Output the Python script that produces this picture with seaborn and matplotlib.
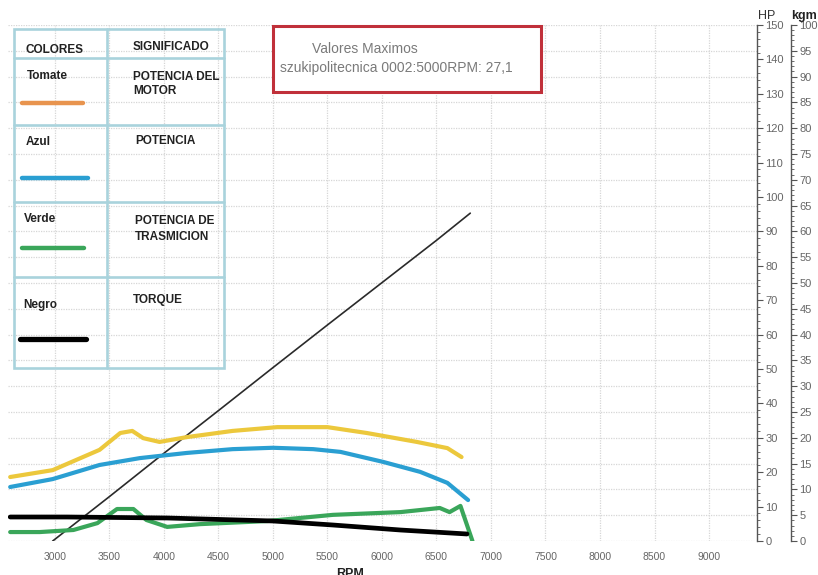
import matplotlib
matplotlib.use("Agg")
import matplotlib.pyplot as plt
from matplotlib.lines import Line2D
from matplotlib.patches import Rectangle
from matplotlib.ticker import MultipleLocator
import seaborn as sns

sns.set_style("white")
plt.rcParams["font.family"] = ["Liberation Sans", "DejaVu Sans"]

# ---------------- data ----------------
# Potencia del motor (HP)
rpm_motor = [2590, 2980, 3410, 3600, 3710, 3810, 3960, 4210, 4630, 5040, 5500, 5860, 6320, 6600, 6730]
hp_motor = [18.6, 20.6, 26.5, 31.4, 32.0, 29.9, 28.8, 30.2, 32.0, 33.1, 33.1, 31.4, 28.8, 27.0, 24.4]

# Potencia (HP)
rpm_potencia = [2590, 2980, 3410, 3780, 4210, 4630, 5000, 5370, 5620, 6010, 6350, 6600, 6790]
hp_potencia = [15.7, 18.0, 22.1, 24.1, 25.6, 26.7, 27.1, 26.7, 25.9, 23.0, 20.1, 16.9, 11.9]

# Potencia de trasmision (HP)
rpm_trasmision = [2590, 2860, 3170, 3390, 3570, 3720, 3840, 4030, 4330, 4950, 5550, 6170, 6530, 6620, 6720, 6830]
hp_trasmision = [2.6, 2.6, 3.2, 5.2, 9.3, 9.3, 6.1, 4.1, 4.9, 5.8, 7.6, 8.4, 9.6, 8.4, 10.2, 0.0]

# Torque (kgm)
rpm_torque = [2590, 3110, 4030, 5000, 5550, 6170, 6780]
kgm_torque = [4.65, 4.65, 4.46, 3.88, 3.10, 2.13, 1.36]

# Rampa de RPM (escala HP)
rpm_rampa = [2980, 3500, 4000, 4500, 5000, 5500, 6000, 6500, 6810]
hp_rampa = [0.0, 12.9, 25.5, 37.9, 50.4, 62.8, 75.1, 87.4, 95.3]

x_ticks = [3000, 3500, 4000, 4500, 5000, 5500, 6000, 6500, 7000, 7500, 8000, 8500, 9000]

# ---------------- figure ----------------
W, H = 818, 575
fig = plt.figure(figsize=(W / 100, H / 100), dpi=100)
fig.patch.set_facecolor("white")


def fx(x):
    return x / W


def fy(y):
    return 1 - y / H


left, right, top, bottom = 8, 757, 25, 541
ax = fig.add_axes([fx(left), fy(bottom), (right - left) / W, (bottom - top) / H])

# HP axis and torque layer (twins of the kgm/grid axis)
ax_hp = ax.twinx()
ax_tq = ax.twinx()

ax.set_xlim(2570, 9440)
ax.set_ylim(0, 100)
ax.set_xticks(x_ticks)
ax.xaxis.set_minor_locator(MultipleLocator(100))
ax.yaxis.set_major_locator(MultipleLocator(5))
ax.yaxis.set_minor_locator(MultipleLocator(1))
ax.grid(True, which="major", color="#d6d6d6", linestyle=(0, (1, 1)), linewidth=0.9)
ax.set_axisbelow(True)
for s in ("left", "top", "bottom"):
    ax.spines[s].set_visible(False)
ax.spines["right"].set_visible(True)
ax.spines["right"].set_position(("outward", 34 * 0.72))
ax.spines["right"].set_color("#555555")
ax.spines["right"].set_linewidth(1.0)
ax.yaxis.tick_right()
ax.yaxis.set_label_position("right")
ax.tick_params(axis="y", which="major", left=False, right=True, labelleft=False,
               labelright=True, length=4, width=0.8, color="#555555",
               labelsize=8, labelcolor="#666666", pad=2)
ax.tick_params(axis="y", which="minor", left=False, right=True, length=2, width=0.6,
               color="#555555")
ax.tick_params(axis="x", which="major", length=3, width=0.6, color="#bbbbbb",
               labelsize=7.5, labelcolor="#666666", pad=8, direction="in")
ax.tick_params(axis="x", which="minor", length=2, width=0.5, color="#cccccc", direction="in")

ax_hp.set_ylim(0, 150)
ax_hp.yaxis.set_major_locator(MultipleLocator(10))
ax_hp.yaxis.set_minor_locator(MultipleLocator(2))
for s in ("left", "top", "bottom"):
    ax_hp.spines[s].set_visible(False)
ax_hp.spines["right"].set_color("#555555")
ax_hp.spines["right"].set_linewidth(1.0)
ax_hp.tick_params(axis="y", which="major", length=4, width=0.8, color="#555555",
                  labelsize=8, labelcolor="#666666", pad=2)
ax_hp.tick_params(axis="y", which="minor", length=2, width=0.6, color="#555555")

sns.lineplot(x=rpm_rampa, y=hp_rampa, ax=ax_hp, color="#2a2a2a", linewidth=1.2)
sns.lineplot(x=rpm_motor, y=hp_motor, ax=ax_hp, color="#ecc83c", linewidth=3.0)
sns.lineplot(x=rpm_potencia, y=hp_potencia, ax=ax_hp, color="#2a9fd2", linewidth=3.0)
sns.lineplot(x=rpm_trasmision, y=hp_trasmision, ax=ax_hp, color="#3aa65a", linewidth=3.0)
ax_hp.set_xlabel("")
ax_hp.set_ylabel("")

# torque on the kgm scale, drawn on top
ax_tq.set_ylim(0, 100)
ax_tq.axis("off")
sns.lineplot(x=rpm_torque, y=kgm_torque, ax=ax_tq, color="black", linewidth=3.4)
ax.set_xlabel("")
ax.set_ylabel("")

# axis titles
fig.text(fx(767), fy(16), "HP", fontsize=9, color="#333333", ha="center", va="center")
fig.text(fx(804), fy(16), "kgm", fontsize=9, color="#222222", ha="center", va="center",
         fontweight="bold")
fig.text(fx(350), fy(568), "RPM", fontsize=9, color="#222222", ha="center", va="top",
         fontweight="bold")

# box with maximum values
fig.add_artist(Rectangle((fx(273), fy(92)), (541 - 273) / W, (92 - 26) / H,
                         transform=fig.transFigure, facecolor="white",
                         edgecolor="#c0303a", linewidth=2.2))
fig.text(fx(312), fy(49), "Valores Maximos", fontsize=10, color="#7a7a7a",
         ha="left", va="center")
fig.text(fx(280), fy(68), "szukipolitecnica 0002:5000RPM: 27,1", fontsize=10,
         color="#7a7a7a", ha="left", va="center")

# colour legend table
border = "#a9d3dc"
fig.add_artist(Rectangle((fx(14), fy(368)), (224 - 14) / W, (368 - 29) / H,
                         transform=fig.transFigure, fill=False,
                         edgecolor=border, linewidth=1.9))
fig.add_artist(Line2D([fx(107), fx(107)], [fy(29), fy(368)], transform=fig.transFigure,
                      color=border, linewidth=1.9))
for yy in (58, 125, 202, 277):
    fig.add_artist(Line2D([fx(14), fx(224)], [fy(yy), fy(yy)], transform=fig.transFigure,
                          color=border, linewidth=1.9))

cell_font = dict(fontsize=8.5, fontweight="bold", color="#222222", ha="left", va="center")
fig.text(fx(25), fy(50), "COLORES", **cell_font)
fig.text(fx(133), fy(47), "SIGNIFICADO", **cell_font)
fig.text(fx(27), fy(76), "Tomate", **cell_font)
fig.text(fx(133), fy(77), "POTENCIA DEL", **cell_font)
fig.text(fx(133), fy(91), "MOTOR", **cell_font)
fig.text(fx(26), fy(142), "Azul", **cell_font)
fig.text(fx(135), fy(141), "POTENCIA", **cell_font)
fig.text(fx(24), fy(219), "Verde", **cell_font)
fig.text(fx(135), fy(221), "POTENCIA DE", **cell_font)
fig.text(fx(135), fy(237), "TRASMICION", **cell_font)
fig.text(fx(23), fy(305), "Negro", **cell_font)
fig.text(fx(133), fy(300), "TORQUE", **cell_font)

swatches = [((22, 83), 103, "#e8944e", 3.2),
            ((22, 88), 178, "#2a9fd2", 3.2),
            ((22, 84), 248, "#3aa65a", 3.2),
            ((20, 86), 339, "black", 3.8)]
for (x0, x1), yy, col, lw in swatches:
    fig.add_artist(Line2D([fx(x0), fx(x1)], [fy(yy), fy(yy)], transform=fig.transFigure,
                          color=col, linewidth=lw, solid_capstyle="round"))

fig.savefig("out.png", dpi=100)
